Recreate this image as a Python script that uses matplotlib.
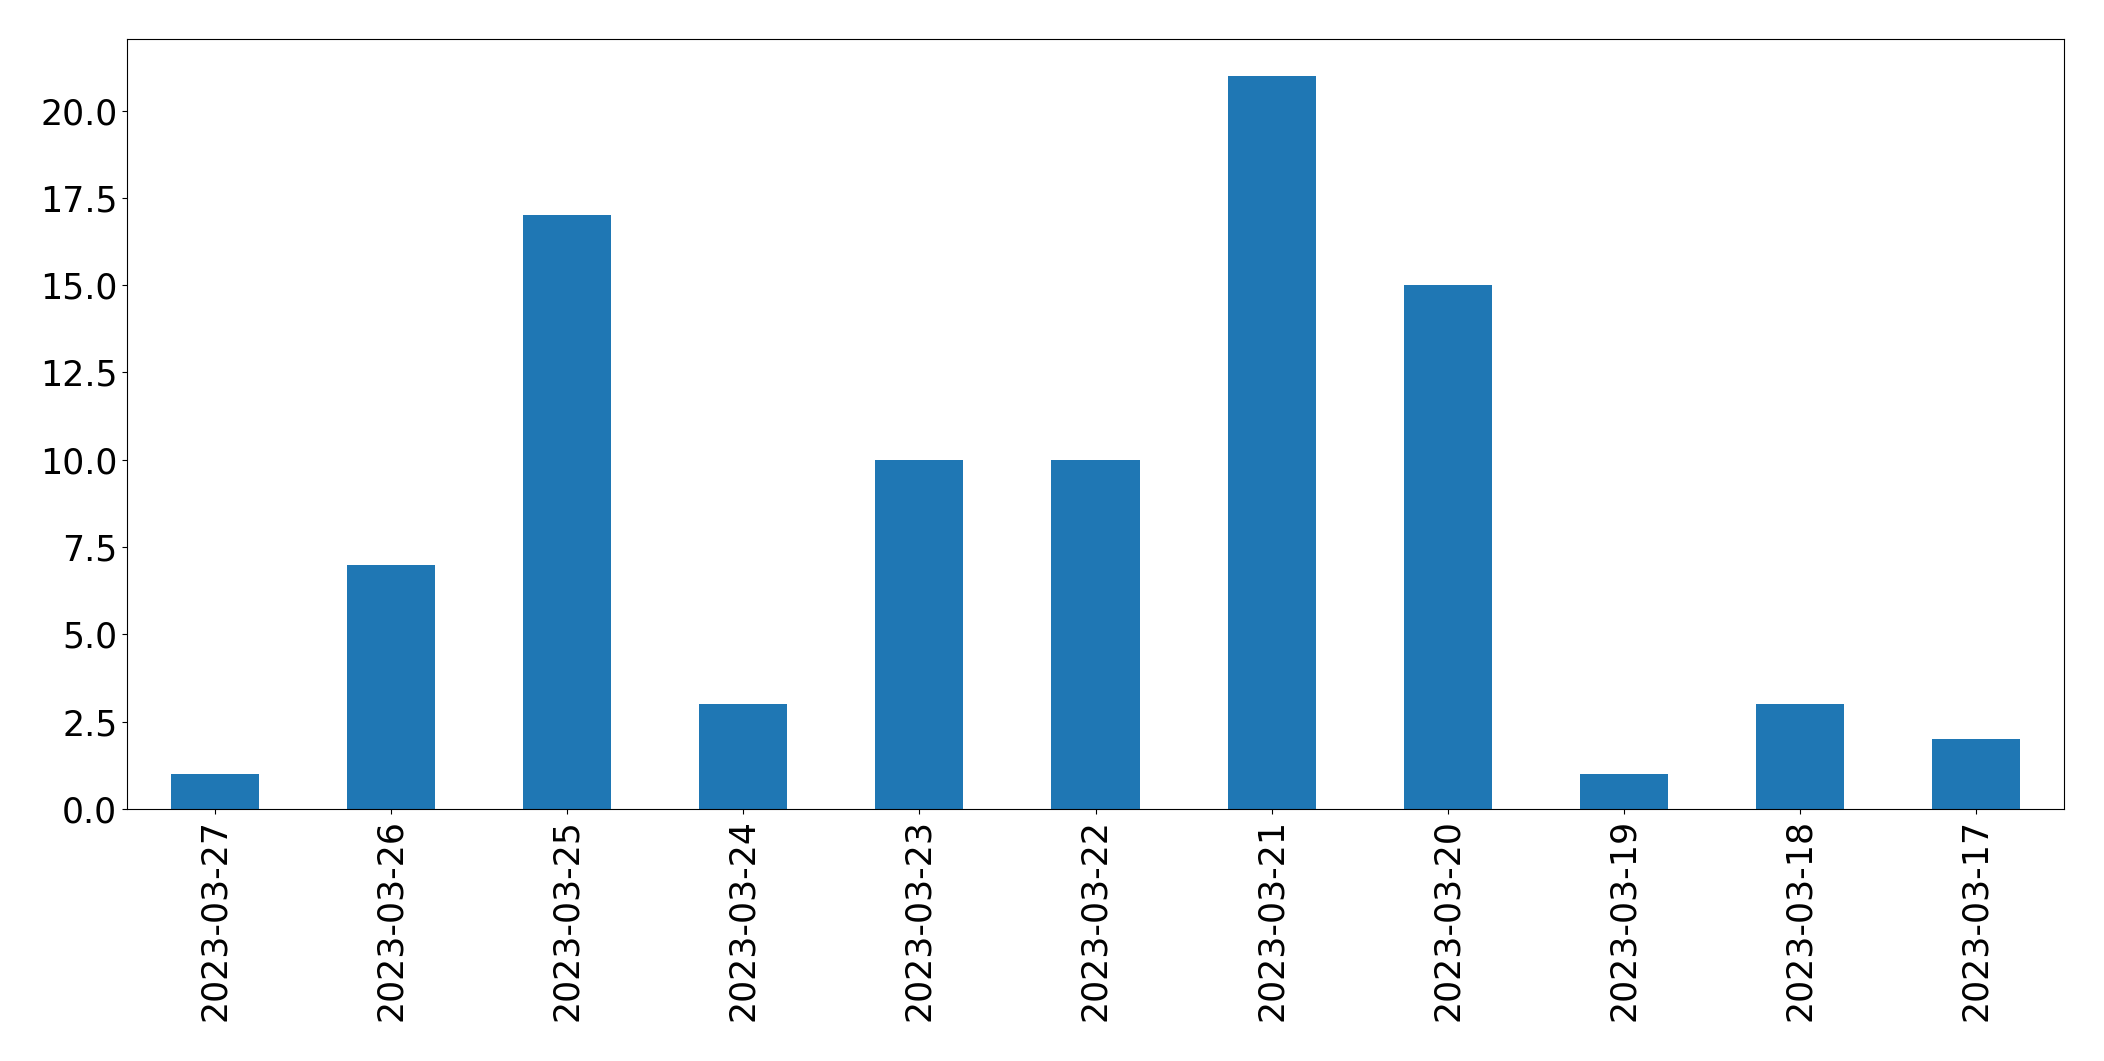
import numpy as np
import matplotlib
matplotlib.use('Agg')
import matplotlib.pyplot as plt

dates = ['2023-03-27', '2023-03-26', '2023-03-25', '2023-03-24', '2023-03-23',
         '2023-03-22', '2023-03-21', '2023-03-20', '2023-03-19', '2023-03-18',
         '2023-03-17']
counts = [1, 7, 17, 3, 10, 10, 21, 15, 1, 3, 2]

plt.rcParams['font.size'] = 25
fig = plt.figure(figsize=(21.04, 10.61), dpi=100)
W, H = 2104, 1061
ax = fig.add_axes([127 / W, 1 - 809 / H, (2064 - 127) / W, (809 - 39) / H])

x = np.arange(len(dates))
ax.bar(x, counts, width=0.5, color='#1f77b4', linewidth=0)
ax.set_xticks(x)
ax.set_xticklabels(dates, rotation=90)
ax.set_xlim(-0.5, len(dates) - 0.5)
ax.set_ylim(0, max(counts) * 1.05)
ticks = np.arange(0, 21, 2.5)
ax.set_yticks(ticks)
ax.set_yticklabels(['%.1f' % v for v in ticks])

fig.savefig('out.png', dpi=100)
